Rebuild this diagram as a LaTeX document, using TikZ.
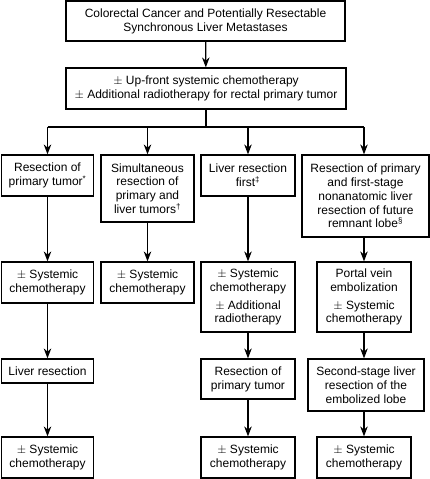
\documentclass[tikz,border=0pt]{standalone}
\usepackage{fontspec}
\setmainfont{Liberation Sans}
\usetikzlibrary{arrows.meta}
\begin{document}
\begin{tikzpicture}[x=1pt,y=-1pt,
  box/.style={draw, line width=1.2pt, inner sep=0pt, align=center,
    font=\fontsize{12}{13.8}\selectfont},
  arr/.style={line width=1.2pt, -{Stealth[length=10pt,width=7.5pt]}},
  ln/.style={line width=1.2pt}]
\useasboundingbox (0,0) rectangle (430,479);
\node[box, minimum width=279pt, minimum height=40pt] (top) at (205.5,21) {Colorectal Cancer and Potentially Resectable\\Synchronous Liver Metastases};
\node[box, minimum width=280pt, minimum height=41pt] (mid) at (206,88.5) {$\pm$ Up-front systemic chemotherapy\\$\pm$ Additional radiotherapy for rectal primary tumor};
% row 3
\node[box, minimum width=92pt, minimum height=41pt] (A) at (47.5,175.5) {Resection of\\primary tumor\textsuperscript{*}};
\node[box, minimum width=93pt, minimum height=67pt] (B) at (147.5,188.5) {Simultaneous\\resection of\\primary and\\liver tumors\textsuperscript{†}};
\node[box, minimum width=94pt, minimum height=41pt] (C) at (248,175.5) {Liver resection\\first\textsuperscript{‡}};
\node[box, minimum width=127pt, minimum height=82pt] (D) at (365.5,196) {Resection of primary\\and first-stage\\nonanatomic liver\\resection of future\\remnant lobe\textsuperscript{§}};
% row 4
\node[box, minimum width=92pt, minimum height=41pt] (A2) at (47.5,282.5) {$\pm$ Systemic\\chemotherapy};
\node[box, minimum width=93pt, minimum height=41pt] (B2) at (147.5,282.5) {$\pm$ Systemic\\chemotherapy};
\node[box, minimum width=94pt, minimum height=70pt] (C2) at (248,297) {$\pm$ Systemic\\chemotherapy\\[4pt]$\pm$ Additional\\radiotherapy};
\node[box, minimum width=94pt, minimum height=70pt] (D2) at (364,297) {Portal vein\\embolization\\[4pt]$\pm$ Systemic\\chemotherapy};
% row 5
\node[box, minimum width=92pt, minimum height=24pt] (A3) at (47.5,371) {Liver resection};
\node[box, minimum width=94pt, minimum height=40pt] (C3) at (248,379) {Resection of\\primary tumor};
\node[box, minimum width=116pt, minimum height=52pt] (D3) at (366,385) {Second-stage liver\\resection of the\\embolized lobe};
% row 6
\node[box, minimum width=92pt, minimum height=41pt] (A4) at (47.5,457.5) {$\pm$ Systemic\\chemotherapy};
\node[box, minimum width=94pt, minimum height=41pt] (C4) at (248,457.5) {$\pm$ Systemic\\chemotherapy};
\node[box, minimum width=94pt, minimum height=41pt] (D4) at (364,457.5) {$\pm$ Systemic\\chemotherapy};
% connectors
\draw[arr] (top) -- (mid);
\coordinate (bus) at (206,127);
\draw[ln] (mid.south) -- (bus);
\draw[ln] (bus -| A) -- (bus -| D2);
\draw[arr] (bus -| A) -- (A.north);
\draw[arr] (bus -| B) -- (B.north);
\draw[arr] (bus -| C) -- (C.north);
\draw[arr] (bus -| D2) -- (D2 |- D.north);
\draw[arr] (A) -- (A2);
\draw[arr] (B) -- (B2);
\draw[arr] (C) -- (C2);
\draw[arr] (D2 |- D.south) -- (D2);
\draw[arr] (A2) -- (A3);
\draw[arr] (A3) -- (A4);
\draw[arr] (C2) -- (C3);
\draw[arr] (C3) -- (C4);
\draw[arr] (D2) -- (D2 |- D3.north);
\draw[arr] (D2 |- D3.south) -- (D4);
\end{tikzpicture}
\end{document}
